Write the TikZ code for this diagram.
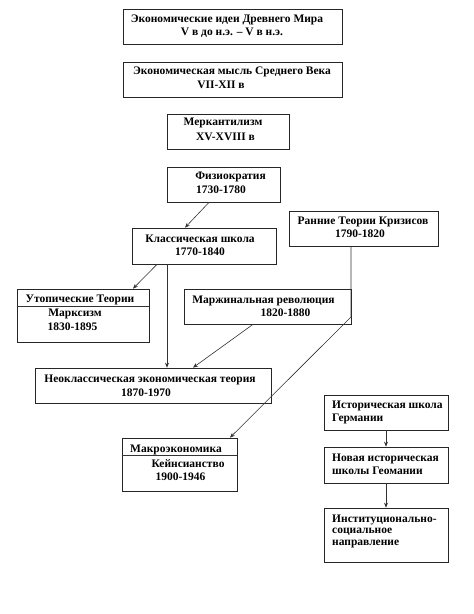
\documentclass[tikz,border=0pt]{standalone}
\usepackage{fontspec}
\setmainfont{Liberation Serif}
\usetikzlibrary{arrows.meta}
\begin{document}
\begin{tikzpicture}[x=1pt,y=-1pt,
  box/.style={draw=black!85,line width=0.7pt,rectangle,inner sep=0pt},
  txt/.style={inner sep=0pt,font=\fontsize{11.5}{13}\selectfont\bfseries},
  ltxt/.style={txt,anchor=west},
  arr/.style={draw=black!80,line width=0.6pt,-{Stealth[length=5pt,width=4pt]}},
  ln/.style={draw=black!80,line width=0.6pt}]
\useasboundingbox[fill=white] (0,0) rectangle (474,614);
% boxes
\node[box,minimum width=219pt,minimum height=35pt] (anc) at (232.5,26.5) {};
\node[box,minimum width=219pt,minimum height=35pt] (mid) at (232.5,79.5) {};
\node[box,minimum width=122pt,minimum height=35pt] (merc) at (228,131.5) {};
\node[box,minimum width=113pt,minimum height=35pt] (phys) at (223.5,184.5) {};
\node[box,minimum width=144pt,minimum height=36pt] (class) at (204,246) {};
\node[box,minimum width=149pt,minimum height=35pt] (early) at (363.5,228.5) {};
\node[box,minimum width=132pt,minimum height=53pt] (utop) at (83,315.5) {};
\node[box,minimum width=167pt,minimum height=35pt] (marg) at (267.5,306.5) {};
\node[box,minimum width=236pt,minimum height=35pt] (neo) at (153,385.5) {};
\node[box,minimum width=115pt,minimum height=53pt] (macro) at (179.5,464.5) {};
\node[box,minimum width=124pt,minimum height=35pt] (hista) at (386,412.5) {};
\node[box,minimum width=124pt,minimum height=36pt] (histb) at (386,465) {};
\node[box,minimum width=124pt,minimum height=54pt] (inst) at (386,535) {};
% dividers
\coordinate (ud) at (17,306);
\draw[ln] (ud -| utop.west) -- (ud -| utop.east);
\coordinate (md) at (122,455);
\draw[ln] (md -| macro.west) -- (md -| macro.east);
% texts
\node[txt] (t1a) at (227,20) {Экономические идеи Древнего Мира};
\node[txt] (t1b) at (232,33) {V в до н.э. – V в н.э.};
\node[txt] (t2a) at (232,72) {Экономическая мысль Среднего Века};
\node[txt] (t2b) at (221,85) {VII-XII в};
\node[txt] (t3a) at (223,123) {Меркантилизм};
\node[txt] (t3b) at (225.5,137) {XV-XVIII в};
\node[txt] (t4a) at (230.5,177) {Физиократия};
\node[txt] (t4b) at (221,190) {1730-1780};
\node[txt] (t5a) at (200,239) {Классическая школа};
\node[txt] (t5b) at (200,252) {1770-1840};
\node[txt] (t6a) at (363,222) {Ранние Теории Кризисов};
\node[txt] (t6b) at (360,234) {1790-1820};
\node[txt] (t7a) at (80,300) {Утопические Теории};
\node[txt] (t7b) at (75,314) {Марксизм};
\node[txt] (t7c) at (72.5,327) {1830-1895};
\node[txt] (t8a) at (263.5,301) {Маржинальная революция};
\node[txt] (t8b) at (285.5,313) {1820-1880};
\node[txt] (t9a) at (150,380) {Неоклассическая экономическая теория};
\node[txt] (t9b) at (146,393) {1870-1970};
\node[txt] (t10a) at (176,450) {Макроэкономика};
\node[txt] (t10b) at (188,464) {Кейнсианство};
\node[txt] (t10c) at (180.5,477) {1900-1946};
\node[ltxt] (t11a) at (332,406) {Историческая школа};
\node[ltxt] (t11b) at (332,419) {Германии};
\node[ltxt] (t12a) at (332,459) {Новая историческая};
\node[ltxt] (t12b) at (332,471) {школы Геомании};
\node[ltxt] (t13a) at (332,520) {Институционально-};
\node[ltxt] (t13b) at (332,532) {социальное};
\node[ltxt] (t13c) at (332,544) {направление};
% connectors
\draw[arr] ([xshift=-14.5pt]phys.south) -- ([xshift=-19pt]class.north);
\draw[arr] ([xshift=-47pt]class.south) -- ([xshift=50pt]utop.north);
\draw[arr] ([xshift=-37pt]class.south) -- ([xshift=14pt]neo.north);
\draw[arr] ([xshift=-14.5pt]marg.south) -- ([xshift=40pt]neo.north);
\coordinate (bend) at (351,317);
\draw[arr] ([xshift=-12.5pt]early.south) -- (bend) -- ([xshift=50.5pt]macro.north);
\draw[arr] (hista) -- (histb);
\draw[arr] (histb) -- (inst);
\end{tikzpicture}
\end{document}
